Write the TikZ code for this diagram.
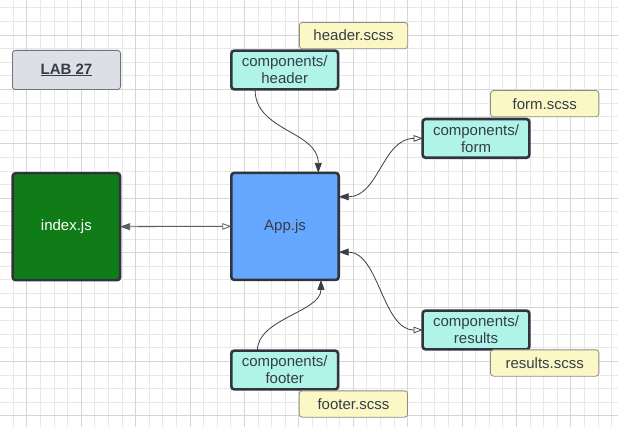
\documentclass[tikz,border=0pt]{standalone}
\usepackage{fontspec}
\setmainfont{Liberation Sans}
\usetikzlibrary{arrows.meta,calc}
\definecolor{gridminor}{HTML}{E8E8E8}
\definecolor{gridmajor}{HTML}{D6D6D6}
\definecolor{ink}{HTML}{373D46}
\definecolor{edge}{HTML}{30353D}
\definecolor{labfill}{HTML}{DCDFE5}
\definecolor{labdraw}{HTML}{6E737B}
\definecolor{scssfill}{HTML}{FBF8C6}
\definecolor{scssdraw}{HTML}{8C8C84}
\definecolor{compfill}{HTML}{B0F3E8}
\definecolor{indexfill}{HTML}{107C17}
\definecolor{appfill}{HTML}{66A8FF}
\definecolor{linkcol}{HTML}{3A3F47}
\tikzset{
  box/.style={draw=edge, line width=2.6pt, rounded corners=3pt, outer sep=0pt, inner sep=0pt,
    text=ink, align=center, font=\fontsize{15}{17}\selectfont},
  comp/.style={box, fill=compfill, minimum width=106.7pt, minimum height=38.8pt},
  big/.style={box, minimum width=107.4pt, minimum height=107pt},
  scss/.style={draw=scssdraw, line width=0.8pt, fill=scssfill, rounded corners=3pt, outer sep=0pt,
    inner sep=0pt, minimum width=108.3pt, minimum height=26.3pt, text=ink,
    font=\fontsize{15}{17}\selectfont},
  link/.style={draw=linkcol, line width=0.8pt},
  fulltip/.tip={Triangle[length=10pt,width=7pt]},
  opentip/.tip={Triangle[open,fill=white,length=9pt,width=6.5pt]},
}
\begin{document}
\begin{tikzpicture}[x=1pt,y=-1pt]
\useasboundingbox (0,0) rectangle (618,427);
\fill[white] (0,0) rectangle (618,427);
% grid
\foreach \i in {0,...,46} {\draw[gridminor, line width=0.8pt] ({-0.4+13.6*\i},0) -- ++(0,427);}
\foreach \i in {0,...,31} {\draw[gridminor, line width=0.8pt] (0,{7.8+13.6*\i}) -- ++(618,0);}
\foreach \i in {0,...,11} {\draw[gridmajor, line width=0.8pt] ({26.8+54.4*\i},0) -- ++(0,427);}
\foreach \i in {0,...,7} {\draw[gridmajor, line width=0.8pt] (0,{35+54.4*\i}) -- ++(618,0);}

% nodes
\node[draw=labdraw, line width=0.8pt, fill=labfill, rounded corners=3pt, outer sep=0pt, inner sep=0pt,
  minimum width=108.2pt, minimum height=39.2pt, text=ink, font=\bfseries\fontsize{15}{17}\selectfont]
  (lab) at (66.5,70) {\underline{LAB 27}};
\node[comp] (hdr) at (284.7,70) {components/\\header};
\node[comp] (form) at (476,138.4) {components/\\form};
\node[comp] (res) at (476,330) {components/\\results};
\node[comp] (foot) at (284.7,370) {components/\\footer};
\node[big, fill=indexfill, text=white] (index) at (66.4,226.7) {index.js};
\node[big, fill=appfill] (app) at (285,226.4) {App.js};

\node[scss] (hdrscss) at (353.5,35.6) {header.scss};
\node[scss] (formscss) at (544.7,103.7) {form.scss};
\node[scss] (resscss) at (544.7,363) {results.scss};
\node[scss] (footscss) at (353.4,404) {footer.scss};

% connectors
\draw[link, draw=linkcol!85!white, opentip-fulltip] (app.west) -- (index.east);
\draw[link, -fulltip] ($(hdr.south west)!0.222!(hdr.south east)$)
  .. controls +(0,42) and +(0,-42) .. ($(app.north west)!0.81!(app.north east)$);
\draw[link, -fulltip] ($(foot.north west)!0.244!(foot.north east)$)
  .. controls +(0,-32) and +(0,32) .. ($(app.south west)!0.835!(app.south east)$);
\draw[link, fulltip-opentip] ($(app.north east)!0.223!(app.south east)$)
  .. controls +(40,0) and +(-40,0) .. (form.west);
\draw[link, fulltip-opentip] ($(app.north east)!0.74!(app.south east)$)
  .. controls +(40,0) and +(-40,0) .. (res.west);
\end{tikzpicture}
\end{document}
